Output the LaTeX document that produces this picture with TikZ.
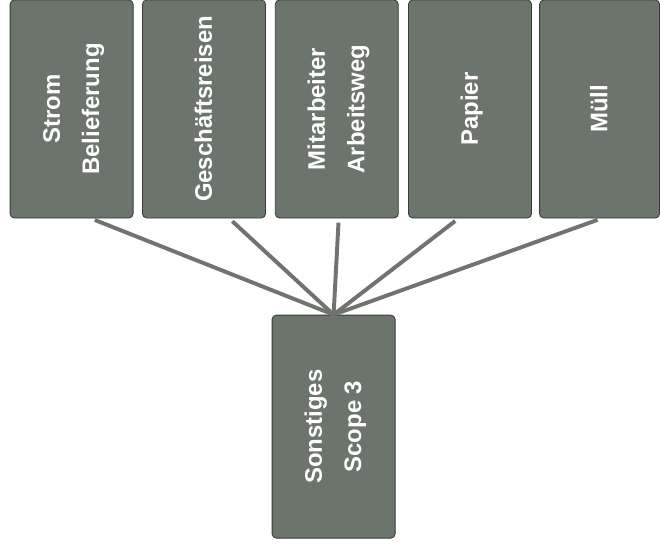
\documentclass[tikz,border=0pt]{standalone}
\usepackage{fontspec}
\setsansfont{Liberation Sans}
\usepackage{tikz}

\definecolor{boxgray}{RGB}{108,117,107}
\definecolor{boxedge}{RGB}{55,60,55}
\definecolor{linegray}{RGB}{112,116,110}

\newcommand{\boxtext}[1]{\rotatebox{90}{\fontsize{17}{28}\selectfont\sffamily\bfseries\begin{tabular}{@{}c@{}}#1\end{tabular}}}

\tikzset{
  scopebox/.style={draw=boxedge, fill=boxgray, rounded corners=3pt, text=white,
    minimum width=3.075cm, minimum height=5.45cm, inner sep=0pt, line width=0.6pt},
  link/.style={draw=linegray, line width=2.8pt, shorten <=3pt}
}

\begin{document}
\begin{tikzpicture}
\useasboundingbox (0,0) rectangle (16.5,13.725);
\node[scopebox] (strom) at (1.79, 11.0) {\boxtext{Strom\\Belieferung}}; % Strom
\node[scopebox] (reisen) at (5.1, 11.0) {\boxtext{Geschäftsreisen}}; % Reisen
\node[scopebox] (weg) at (8.42, 11.0) {\boxtext{Mitarbeiter\\Arbeitsweg}}; % Arbeitsweg
\node[scopebox] (papier) at (11.75, 11.0) {\boxtext{Papier}}; % Papier
\node[scopebox, minimum width=3.0cm] (muell) at (14.99, 11.0) {\boxtext{Müll}}; % Muell
\node[scopebox, minimum height=5.575cm] (sonst) at (8.34, 3.06) {\boxtext{Sonstiges\\Scope 3}}; % Scope 3
\draw[link] (strom.-80) -- (sonst.north) ; % strom
\draw[link] (reisen.-77) -- (sonst.north) ; % reisen
\draw[link] (weg.-89) -- (sonst.north) ; % weg
\draw[link] (papier.-96) -- (sonst.north) ; % papier
\draw[link] (muell.-89) -- (sonst.north) ; % muell
\end{tikzpicture}
\end{document}
